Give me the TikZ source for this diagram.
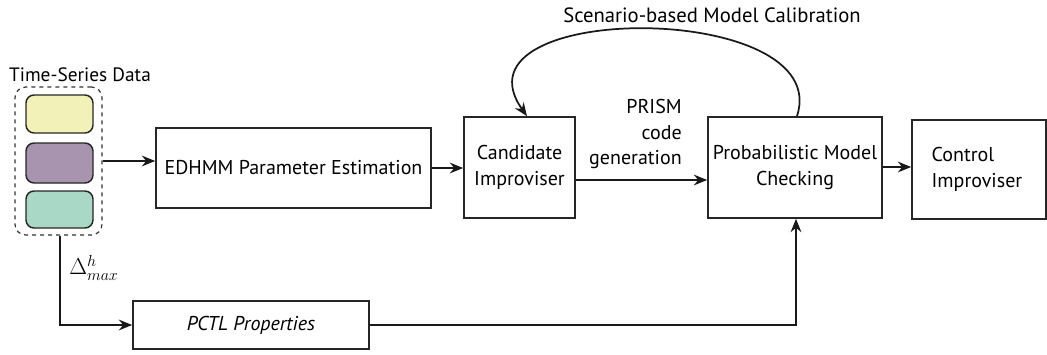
\documentclass[tikz,border=0pt]{standalone}
\usepackage{fontspec}
\setmainfont{PT Sans}
\usetikzlibrary{arrows.meta,positioning,calc}
\definecolor{cyel}{HTML}{F2F2B8}
\definecolor{cpur}{HTML}{A894AE}
\definecolor{cgrn}{HTML}{A9D9C6}
\begin{document}
\begin{tikzpicture}[x=0.75pt,y=-0.75pt,
  box/.style={draw=black!85, line width=1.2pt, inner sep=0pt, align=center, font=\fontsize{15}{20}\selectfont},
  tile/.style={draw=black!85, line width=1.1pt, rounded corners=6pt, inner sep=0pt, minimum width=50.25pt},
  conn/.style={line width=1.3pt, draw=black!90, -{Stealth[length=10pt,width=8pt]}},
  lbl/.style={font=\fontsize{15}{19}\selectfont, inner sep=0pt, align=center}]
\useasboundingbox (0,0) rectangle (1047,354);
% group
\node[draw=black!80, dashed, line width=0.9pt, rounded corners=8pt, minimum width=65.25pt, minimum height=111pt, inner sep=0pt] (grp) at (58.5,161) {};
\node[tile, fill=cyel, minimum height=28.5pt] (y1) at (59.5,114) {};
\node[tile, fill=cpur, minimum height=30pt] (y2) at (59.5,163) {};
\node[tile, fill=cgrn, minimum height=27.75pt] (y3) at (59.5,209.5) {};
\node[lbl, font=\fontsize{14.5}{17}\selectfont] (title) at (80,75) {Time-Series Data};
% boxes
\node[box, minimum width=206.25pt, minimum height=60pt] (ed) at (293.5,168) {EDHMM Parameter Estimation};
\node[box, minimum width=83.25pt, minimum height=75.75pt] (cand) at (519.5,167.5) {Candidate\\Improviser};
\node[box, minimum width=130.5pt, minimum height=75.75pt] (prob) at (795,167.5) {Probabilistic Model\\Checking};
\node[box, minimum width=100.5pt, minimum height=74.25pt, text width=71pt, align=left] (ctrl) at (979,169.5) {Control\\Improviser};
\node[box, minimum width=177pt, minimum height=36pt] (pctl) at (251,325) {\itshape PCTL Properties};
% labels
\node[lbl, align=right, anchor=east] (prism) at (682,134) {PRISM\\code\\generation};
\node[lbl, font=\fontsize{15.5}{19}\selectfont] (scen) at (712,15) {Scenario-based Model Calibration};
% connectors
\draw[conn] (grp.east |- 0,161) -- (ed.west |- 0,161);
\draw[conn] (ed.east |- 0,168) -- (cand.west |- 0,168);
\draw[conn] (cand.east |- 0,180) -- (prob.west |- 0,180);
\draw[conn] (prob.east |- 0,167) -- (ctrl.west |- 0,167);
\coordinate (ls) at (prob.north -| 797,0);
\coordinate (le) at (cand.north -| 527,0);
\draw[conn] (ls) .. controls (835,0) and (445,0) .. (le);
\coordinate (gb) at (grp.south -| 60,0);
\coordinate (c1) at (60,325);
\draw[conn] (gb) -- (c1) -- (pctl.west);
\node[inner sep=0pt, anchor=west] (delta) at (69,268) {\fontsize{18}{20}\selectfont$\Delta^{h}_{max}$};
\coordinate (c2) at (796,325);
\draw[conn] (pctl.east) -- (c2) -- (prob.south -| c2);
\end{tikzpicture}
\end{document}
